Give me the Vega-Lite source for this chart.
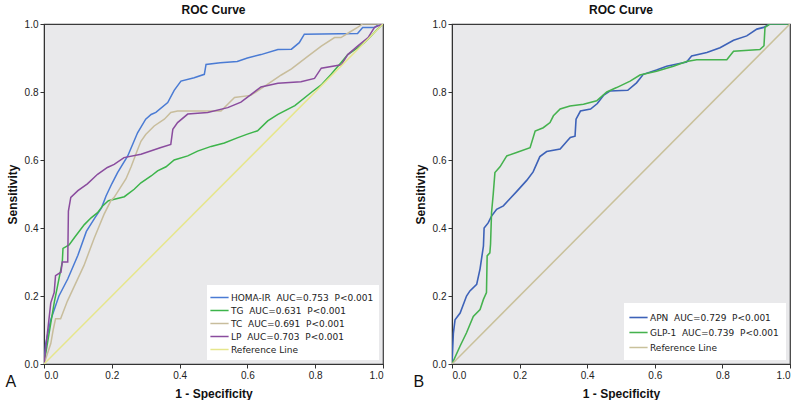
{
  "$schema": "https://vega.github.io/schema/vega-lite/v6.json",
  "background": "white",
  "padding": {"left": 5, "top": 3, "right": 8, "bottom": 0},
  "config": {
    "view": {"stroke": "#3a3a3a", "strokeWidth": 1.2, "fill": "#e9e9eb"},
    "axis": {"grid": false, "domainColor": "#333333", "tickColor": "#333333", "tickSize": 4, "labelFont": "Liberation Sans", "labelFontSize": 10, "labelColor": "#222222", "labelPadding": 2, "titleFont": "Liberation Sans", "titleFontSize": 12, "titleFontWeight": "bold", "titleColor": "#111111"},
    "title": {"font": "Liberation Sans", "fontSize": 12, "fontWeight": "bold", "color": "#111111"},
    "legend": {"orient": "bottom-right", "offset": 4, "fillColor": "white", "padding": 4, "rowPadding": 0, "labelFont": "DejaVu Sans", "labelFontSize": 9, "labelColor": "#222222", "labelLimit": 300, "symbolType": "M-1.4,0H1.4", "symbolSize": 169, "symbolStrokeWidth": 2, "symbolFillColor": "transparent", "title": null},
    "concat": {"spacing": 28}
  },
  "datasets": {
    "A": [
      {"s":"HOMA-IR","i":0,"x":0,"y":0},{"s":"HOMA-IR","i":1,"x":0.005,"y":0.06},{"s":"HOMA-IR","i":2,"x":0.02,"y":0.13},{"s":"HOMA-IR","i":3,"x":0.044,"y":0.2},{"s":"HOMA-IR","i":4,"x":0.07,"y":0.25},{"s":"HOMA-IR","i":5,"x":0.1,"y":0.32},{"s":"HOMA-IR","i":6,"x":0.125,"y":0.39},{"s":"HOMA-IR","i":7,"x":0.15,"y":0.43},{"s":"HOMA-IR","i":8,"x":0.17,"y":0.46},{"s":"HOMA-IR","i":9,"x":0.183,"y":0.494},{"s":"HOMA-IR","i":10,"x":0.2,"y":0.53},{"s":"HOMA-IR","i":11,"x":0.217,"y":0.563},{"s":"HOMA-IR","i":12,"x":0.247,"y":0.612},{"s":"HOMA-IR","i":13,"x":0.276,"y":0.68},{"s":"HOMA-IR","i":14,"x":0.3,"y":0.72},{"s":"HOMA-IR","i":15,"x":0.316,"y":0.734},{"s":"HOMA-IR","i":16,"x":0.33,"y":0.74},{"s":"HOMA-IR","i":17,"x":0.365,"y":0.769},{"s":"HOMA-IR","i":18,"x":0.384,"y":0.805},{"s":"HOMA-IR","i":19,"x":0.404,"y":0.832},{"s":"HOMA-IR","i":20,"x":0.443,"y":0.842},{"s":"HOMA-IR","i":21,"x":0.473,"y":0.852},{"s":"HOMA-IR","i":22,"x":0.478,"y":0.881},{"s":"HOMA-IR","i":23,"x":0.52,"y":0.886},{"s":"HOMA-IR","i":24,"x":0.57,"y":0.89},{"s":"HOMA-IR","i":25,"x":0.6,"y":0.9},{"s":"HOMA-IR","i":26,"x":0.64,"y":0.91},{"s":"HOMA-IR","i":27,"x":0.69,"y":0.925},{"s":"HOMA-IR","i":28,"x":0.73,"y":0.926},{"s":"HOMA-IR","i":29,"x":0.753,"y":0.945},{"s":"HOMA-IR","i":30,"x":0.768,"y":0.97},{"s":"HOMA-IR","i":31,"x":0.925,"y":0.972},{"s":"HOMA-IR","i":32,"x":0.94,"y":0.99},{"s":"HOMA-IR","i":33,"x":0.975,"y":0.99},{"s":"HOMA-IR","i":34,"x":0.99,"y":1},{"s":"HOMA-IR","i":35,"x":1,"y":1},
      {"s":"TG","i":0,"x":0,"y":0},{"s":"TG","i":1,"x":0.01,"y":0.06},{"s":"TG","i":2,"x":0.02,"y":0.12},{"s":"TG","i":3,"x":0.03,"y":0.18},{"s":"TG","i":4,"x":0.04,"y":0.23},{"s":"TG","i":5,"x":0.05,"y":0.28},{"s":"TG","i":6,"x":0.054,"y":0.3},{"s":"TG","i":7,"x":0.056,"y":0.34},{"s":"TG","i":8,"x":0.074,"y":0.35},{"s":"TG","i":9,"x":0.09,"y":0.372},{"s":"TG","i":10,"x":0.119,"y":0.41},{"s":"TG","i":11,"x":0.139,"y":0.43},{"s":"TG","i":12,"x":0.158,"y":0.445},{"s":"TG","i":13,"x":0.173,"y":0.465},{"s":"TG","i":14,"x":0.19,"y":0.48},{"s":"TG","i":15,"x":0.237,"y":0.492},{"s":"TG","i":16,"x":0.266,"y":0.514},{"s":"TG","i":17,"x":0.286,"y":0.533},{"s":"TG","i":18,"x":0.316,"y":0.553},{"s":"TG","i":19,"x":0.335,"y":0.568},{"s":"TG","i":20,"x":0.36,"y":0.58},{"s":"TG","i":21,"x":0.384,"y":0.6},{"s":"TG","i":22,"x":0.424,"y":0.612},{"s":"TG","i":23,"x":0.453,"y":0.626},{"s":"TG","i":24,"x":0.493,"y":0.64},{"s":"TG","i":25,"x":0.532,"y":0.65},{"s":"TG","i":26,"x":0.57,"y":0.665},{"s":"TG","i":27,"x":0.6,"y":0.676},{"s":"TG","i":28,"x":0.63,"y":0.686},{"s":"TG","i":29,"x":0.66,"y":0.715},{"s":"TG","i":30,"x":0.69,"y":0.734},{"s":"TG","i":31,"x":0.74,"y":0.76},{"s":"TG","i":32,"x":0.79,"y":0.8},{"s":"TG","i":33,"x":0.817,"y":0.82},{"s":"TG","i":34,"x":0.847,"y":0.852},{"s":"TG","i":35,"x":0.876,"y":0.886},{"s":"TG","i":36,"x":0.896,"y":0.91},{"s":"TG","i":37,"x":0.925,"y":0.93},{"s":"TG","i":38,"x":0.945,"y":0.945},{"s":"TG","i":39,"x":0.965,"y":0.965},{"s":"TG","i":40,"x":0.984,"y":0.985},{"s":"TG","i":41,"x":1,"y":1},
      {"s":"TC","i":0,"x":0,"y":0},{"s":"TC","i":1,"x":0.01,"y":0.03},{"s":"TC","i":2,"x":0.02,"y":0.06},{"s":"TC","i":3,"x":0.027,"y":0.1},{"s":"TC","i":4,"x":0.034,"y":0.133},{"s":"TC","i":5,"x":0.049,"y":0.133},{"s":"TC","i":6,"x":0.069,"y":0.185},{"s":"TC","i":7,"x":0.118,"y":0.29},{"s":"TC","i":8,"x":0.148,"y":0.37},{"s":"TC","i":9,"x":0.177,"y":0.44},{"s":"TC","i":10,"x":0.197,"y":0.48},{"s":"TC","i":11,"x":0.207,"y":0.49},{"s":"TC","i":12,"x":0.242,"y":0.545},{"s":"TC","i":13,"x":0.257,"y":0.58},{"s":"TC","i":14,"x":0.276,"y":0.63},{"s":"TC","i":15,"x":0.286,"y":0.655},{"s":"TC","i":16,"x":0.3,"y":0.675},{"s":"TC","i":17,"x":0.325,"y":0.7},{"s":"TC","i":18,"x":0.355,"y":0.72},{"s":"TC","i":19,"x":0.374,"y":0.74},{"s":"TC","i":20,"x":0.394,"y":0.744},{"s":"TC","i":21,"x":0.522,"y":0.744},{"s":"TC","i":22,"x":0.542,"y":0.764},{"s":"TC","i":23,"x":0.562,"y":0.784},{"s":"TC","i":24,"x":0.61,"y":0.79},{"s":"TC","i":25,"x":0.66,"y":0.823},{"s":"TC","i":26,"x":0.7,"y":0.85},{"s":"TC","i":27,"x":0.73,"y":0.868},{"s":"TC","i":28,"x":0.778,"y":0.905},{"s":"TC","i":29,"x":0.818,"y":0.935},{"s":"TC","i":30,"x":0.857,"y":0.96},{"s":"TC","i":31,"x":0.876,"y":0.96},{"s":"TC","i":32,"x":0.9,"y":0.975},{"s":"TC","i":33,"x":0.925,"y":0.99},{"s":"TC","i":34,"x":0.94,"y":1},{"s":"TC","i":35,"x":1,"y":1},
      {"s":"LP","i":0,"x":0,"y":0},{"s":"LP","i":1,"x":0.01,"y":0.09},{"s":"LP","i":2,"x":0.02,"y":0.18},{"s":"LP","i":3,"x":0.03,"y":0.21},{"s":"LP","i":4,"x":0.034,"y":0.26},{"s":"LP","i":5,"x":0.05,"y":0.27},{"s":"LP","i":6,"x":0.054,"y":0.3},{"s":"LP","i":7,"x":0.07,"y":0.3},{"s":"LP","i":8,"x":0.072,"y":0.45},{"s":"LP","i":9,"x":0.079,"y":0.49},{"s":"LP","i":10,"x":0.1,"y":0.51},{"s":"LP","i":11,"x":0.128,"y":0.53},{"s":"LP","i":12,"x":0.158,"y":0.558},{"s":"LP","i":13,"x":0.187,"y":0.578},{"s":"LP","i":14,"x":0.207,"y":0.587},{"s":"LP","i":15,"x":0.236,"y":0.607},{"s":"LP","i":16,"x":0.286,"y":0.617},{"s":"LP","i":17,"x":0.345,"y":0.637},{"s":"LP","i":18,"x":0.374,"y":0.646},{"s":"LP","i":19,"x":0.38,"y":0.69},{"s":"LP","i":20,"x":0.394,"y":0.71},{"s":"LP","i":21,"x":0.424,"y":0.735},{"s":"LP","i":22,"x":0.483,"y":0.74},{"s":"LP","i":23,"x":0.542,"y":0.754},{"s":"LP","i":24,"x":0.581,"y":0.77},{"s":"LP","i":25,"x":0.64,"y":0.815},{"s":"LP","i":26,"x":0.69,"y":0.826},{"s":"LP","i":27,"x":0.758,"y":0.83},{"s":"LP","i":28,"x":0.798,"y":0.84},{"s":"LP","i":29,"x":0.818,"y":0.87},{"s":"LP","i":30,"x":0.877,"y":0.88},{"s":"LP","i":31,"x":0.896,"y":0.91},{"s":"LP","i":32,"x":0.925,"y":0.935},{"s":"LP","i":33,"x":0.956,"y":0.96},{"s":"LP","i":34,"x":0.975,"y":0.99},{"s":"LP","i":35,"x":1,"y":1},
      {"s":"Reference Line","i":0,"x":0,"y":0},{"s":"Reference Line","i":1,"x":1,"y":1}
    ],
    "B": [
      {"s":"APN","i":0,"x":0,"y":0},{"s":"APN","i":1,"x":0.004,"y":0.09},{"s":"APN","i":2,"x":0.009,"y":0.13},{"s":"APN","i":3,"x":0.024,"y":0.15},{"s":"APN","i":4,"x":0.043,"y":0.2},{"s":"APN","i":5,"x":0.053,"y":0.215},{"s":"APN","i":6,"x":0.073,"y":0.234},{"s":"APN","i":7,"x":0.083,"y":0.28},{"s":"APN","i":8,"x":0.093,"y":0.347},{"s":"APN","i":9,"x":0.095,"y":0.4},{"s":"APN","i":10,"x":0.107,"y":0.415},{"s":"APN","i":11,"x":0.117,"y":0.435},{"s":"APN","i":12,"x":0.132,"y":0.455},{"s":"APN","i":13,"x":0.152,"y":0.465},{"s":"APN","i":14,"x":0.172,"y":0.487},{"s":"APN","i":15,"x":0.191,"y":0.507},{"s":"APN","i":16,"x":0.221,"y":0.54},{"s":"APN","i":17,"x":0.24,"y":0.565},{"s":"APN","i":18,"x":0.26,"y":0.61},{"s":"APN","i":19,"x":0.28,"y":0.625},{"s":"APN","i":20,"x":0.32,"y":0.632},{"s":"APN","i":21,"x":0.34,"y":0.655},{"s":"APN","i":22,"x":0.35,"y":0.666},{"s":"APN","i":23,"x":0.364,"y":0.67},{"s":"APN","i":24,"x":0.367,"y":0.72},{"s":"APN","i":25,"x":0.38,"y":0.744},{"s":"APN","i":26,"x":0.41,"y":0.75},{"s":"APN","i":27,"x":0.43,"y":0.766},{"s":"APN","i":28,"x":0.448,"y":0.79},{"s":"APN","i":29,"x":0.467,"y":0.803},{"s":"APN","i":30,"x":0.52,"y":0.805},{"s":"APN","i":31,"x":0.546,"y":0.827},{"s":"APN","i":32,"x":0.566,"y":0.852},{"s":"APN","i":33,"x":0.605,"y":0.865},{"s":"APN","i":34,"x":0.635,"y":0.876},{"s":"APN","i":35,"x":0.694,"y":0.888},{"s":"APN","i":36,"x":0.709,"y":0.906},{"s":"APN","i":37,"x":0.754,"y":0.916},{"s":"APN","i":38,"x":0.793,"y":0.93},{"s":"APN","i":39,"x":0.833,"y":0.952},{"s":"APN","i":40,"x":0.872,"y":0.965},{"s":"APN","i":41,"x":0.902,"y":0.985},{"s":"APN","i":42,"x":0.922,"y":0.99},{"s":"APN","i":43,"x":0.94,"y":1},{"s":"APN","i":44,"x":1,"y":1},
      {"s":"GLP-1","i":0,"x":0,"y":0},{"s":"GLP-1","i":1,"x":0.024,"y":0.053},{"s":"GLP-1","i":2,"x":0.043,"y":0.092},{"s":"GLP-1","i":3,"x":0.063,"y":0.14},{"s":"GLP-1","i":4,"x":0.083,"y":0.16},{"s":"GLP-1","i":5,"x":0.093,"y":0.19},{"s":"GLP-1","i":6,"x":0.102,"y":0.21},{"s":"GLP-1","i":7,"x":0.104,"y":0.318},{"s":"GLP-1","i":8,"x":0.112,"y":0.327},{"s":"GLP-1","i":9,"x":0.114,"y":0.352},{"s":"GLP-1","i":10,"x":0.117,"y":0.445},{"s":"GLP-1","i":11,"x":0.122,"y":0.5},{"s":"GLP-1","i":12,"x":0.127,"y":0.563},{"s":"GLP-1","i":13,"x":0.142,"y":0.58},{"s":"GLP-1","i":14,"x":0.162,"y":0.612},{"s":"GLP-1","i":15,"x":0.191,"y":0.622},{"s":"GLP-1","i":16,"x":0.231,"y":0.636},{"s":"GLP-1","i":17,"x":0.246,"y":0.685},{"s":"GLP-1","i":18,"x":0.27,"y":0.695},{"s":"GLP-1","i":19,"x":0.29,"y":0.71},{"s":"GLP-1","i":20,"x":0.3,"y":0.73},{"s":"GLP-1","i":21,"x":0.32,"y":0.75},{"s":"GLP-1","i":22,"x":0.349,"y":0.759},{"s":"GLP-1","i":23,"x":0.389,"y":0.764},{"s":"GLP-1","i":24,"x":0.428,"y":0.774},{"s":"GLP-1","i":25,"x":0.458,"y":0.8},{"s":"GLP-1","i":26,"x":0.487,"y":0.813},{"s":"GLP-1","i":27,"x":0.527,"y":0.832},{"s":"GLP-1","i":28,"x":0.556,"y":0.85},{"s":"GLP-1","i":29,"x":0.605,"y":0.861},{"s":"GLP-1","i":30,"x":0.655,"y":0.876},{"s":"GLP-1","i":31,"x":0.694,"y":0.89},{"s":"GLP-1","i":32,"x":0.724,"y":0.895},{"s":"GLP-1","i":33,"x":0.813,"y":0.895},{"s":"GLP-1","i":34,"x":0.833,"y":0.92},{"s":"GLP-1","i":35,"x":0.911,"y":0.925},{"s":"GLP-1","i":36,"x":0.923,"y":0.936},{"s":"GLP-1","i":37,"x":0.926,"y":0.99},{"s":"GLP-1","i":38,"x":0.94,"y":1},{"s":"GLP-1","i":39,"x":1,"y":1},
      {"s":"Reference Line","i":0,"x":0,"y":0},{"s":"Reference Line","i":1,"x":1,"y":1}
    ]
  },
  "resolve": {"scale": {"color": "independent", "strokeWidth": "independent"}, "legend": {"color": "independent"}},
  "hconcat": [
    {
      "title": {"text": "A", "orient": "bottom", "anchor": "start", "fontSize": 16, "fontWeight": "normal", "font": "Liberation Sans", "offset": -26},
      "resolve": {"scale": {"color": "independent", "strokeWidth": "independent"}, "legend": {"color": "independent"}},
      "vconcat": [
        {
          "title": {"text": "ROC Curve", "offset": 5, "dy": 3},
          "width": 339,
          "height": 340,
          "data": {"name": "A"},
          "mark": {"type": "line", "clip": true},
          "encoding": {
            "x": {"field": "x", "type": "quantitative", "scale": {"domain": [0, 1], "nice": false}, "axis": {"title": "1 - Specificity", "values": [0, 0.2, 0.4, 0.6, 0.8, 1], "format": ".1f", "titlePadding": 8}},
            "y": {"field": "y", "type": "quantitative", "scale": {"domain": [0, 1], "nice": false}, "axis": {"title": "Sensitivity", "values": [0, 0.2, 0.4, 0.6, 0.8, 1], "format": ".1f", "titlePadding": 5}},
            "color": {"field": "s", "type": "nominal", "scale": {"domain": ["HOMA-IR", "TG", "TC", "LP", "Reference Line"], "range": ["#4a7bd4", "#3cb44a", "#c8bd9c", "#8a4c9e", "#e6e68c"]}, "legend": {"padding": 5, "labelExpr": "datum.label == 'HOMA-IR' ? 'HOMA-IR\u00a0 AUC=0.753\u00a0 P<0.001' : datum.label == 'TG' ? 'TG\u00a0 AUC=0.631\u00a0 P<0.001' : datum.label == 'TC' ? 'TC\u00a0 AUC=0.691\u00a0 P<0.001' : datum.label == 'LP' ? 'LP\u00a0 AUC=0.703\u00a0 P<0.001' : 'Reference Line'"}},
            "strokeWidth": {"field": "s", "type": "nominal", "scale": {"domain": ["HOMA-IR", "TG", "TC", "LP", "Reference Line"], "range": [1.5, 1.5, 1.5, 2.2, 1.2]}, "legend": null},
            "order": {"field": "i", "type": "quantitative"}
          }
        }
      ]
    },
    {
      "title": {"text": "B", "orient": "bottom", "anchor": "start", "fontSize": 16, "fontWeight": "normal", "font": "Liberation Sans", "offset": -26},
      "resolve": {"scale": {"color": "independent", "strokeWidth": "independent"}, "legend": {"color": "independent"}},
      "vconcat": [
        {
          "title": {"text": "ROC Curve", "offset": 5, "dy": 3},
          "width": 338,
          "height": 340,
          "data": {"name": "B"},
          "mark": {"type": "line", "clip": true},
          "encoding": {
            "x": {"field": "x", "type": "quantitative", "scale": {"domain": [0, 1], "nice": false}, "axis": {"title": "1 - Specificity", "values": [0, 0.2, 0.4, 0.6, 0.8, 1], "format": ".1f", "titlePadding": 8}},
            "y": {"field": "y", "type": "quantitative", "scale": {"domain": [0, 1], "nice": false}, "axis": {"title": "Sensitivity", "values": [0, 0.2, 0.4, 0.6, 0.8, 1], "format": ".1f", "titlePadding": 5}},
            "color": {"field": "s", "type": "nominal", "scale": {"domain": ["APN", "GLP-1", "Reference Line"], "range": ["#3d62b8", "#45b24e", "#c9c19b"]}, "legend": {"rowPadding": 2, "padding": 7, "labelExpr": "datum.label == 'APN' ? 'APN\u00a0 AUC=0.729\u00a0 P<0.001' : datum.label == 'GLP-1' ? 'GLP-1\u00a0 AUC=0.739\u00a0 P<0.001' : 'Reference Line'"}},
            "strokeWidth": {"field": "s", "type": "nominal", "scale": {"domain": ["APN", "GLP-1", "Reference Line"], "range": [1.6, 1.5, 1.2]}, "legend": null},
            "order": {"field": "i", "type": "quantitative"}
          }
        }
      ]
    }
  ]
}
